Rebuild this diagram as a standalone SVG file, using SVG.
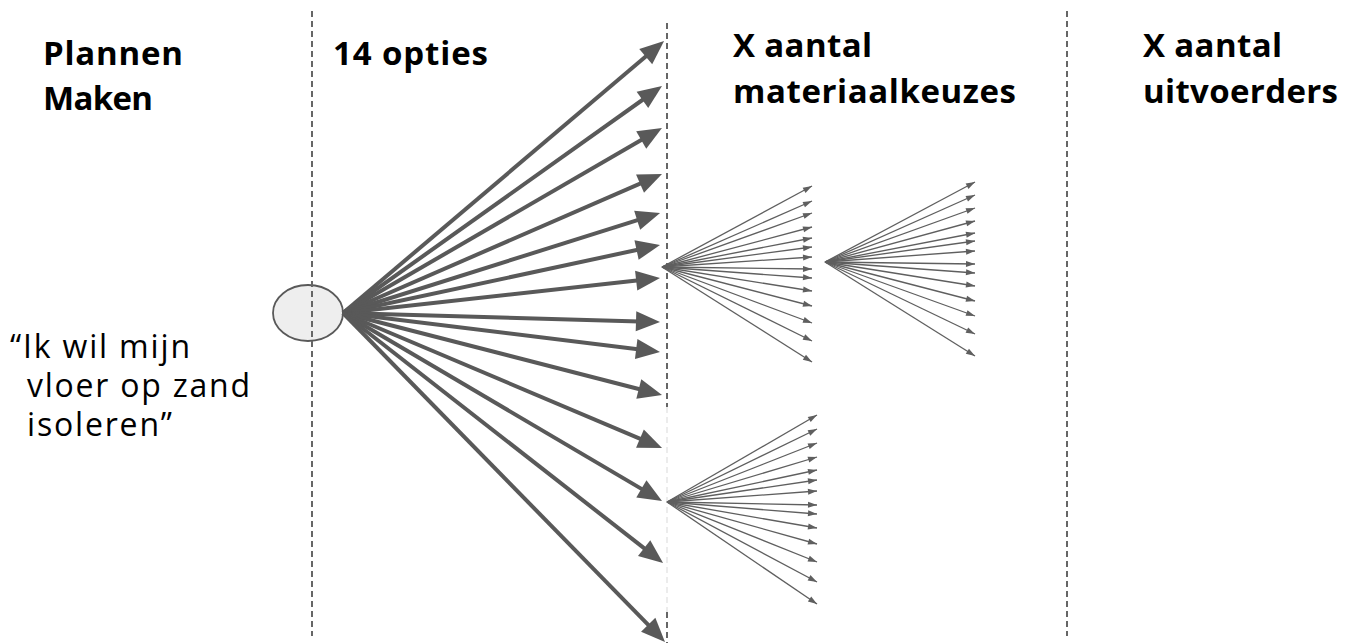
<svg xmlns="http://www.w3.org/2000/svg" width="1355" height="643" viewBox="0 0 1355 643">
<style>
.sep{stroke:#666;stroke-width:2;stroke-dasharray:6 4;fill:none}
.sepf{stroke:#ececec;stroke-width:2;stroke-dasharray:6 4;fill:none}
.big{stroke:#595959;stroke-width:4;fill:none;marker-end:url(#bh)}
.thin{stroke:#5f5f5f;stroke-width:1.3;fill:none;marker-end:url(#th)}
.h{font-family:"Open Sans","DejaVu Sans",sans-serif;font-weight:700;font-size:33px;fill:#000}
.q{font-family:"Open Sans","DejaVu Sans",sans-serif;font-weight:400;font-size:32px;fill:#000}
</style>
<defs>
<marker id="bh" markerUnits="userSpaceOnUse" markerWidth="24" markerHeight="20" refX="12" refY="10" orient="auto" overflow="visible">
<path d="M0,0 L24,10 L0,20 z" fill="#595959"/>
</marker>
<marker id="th" markerUnits="userSpaceOnUse" markerWidth="9" markerHeight="6" refX="9" refY="3" orient="auto" overflow="visible">
<path d="M0,0 L9,3 L0,6 z" fill="#5f5f5f"/>
</marker>
</defs>
<rect width="1355" height="643" fill="#fff"/>
<g id="node-start">
<ellipse cx="308" cy="313" rx="35" ry="28" fill="#eeeeee" stroke="#595959" stroke-width="1.8"/>
</g>
<g id="separators">
<line class="sep" x1="312" y1="11" x2="312" y2="636"/>
<line class="sep" x1="667" y1="23" x2="667" y2="407"/>
<line class="sepf" x1="667" y1="407" x2="667" y2="612"/>
<line class="sep" x1="667" y1="612" x2="667" y2="643"/>
<line class="sep" x1="1067" y1="11" x2="1067" y2="636"/>
</g>
<g id="connectors">
<g id="options">
<line class="big" x1="343" y1="313" x2="654.9" y2="48.8"/>
<line class="big" x1="343" y1="313" x2="652.2" y2="93.0"/>
<line class="big" x1="343" y1="313" x2="651.6" y2="134.0"/>
<line class="big" x1="343" y1="313" x2="651.0" y2="178.8"/>
<line class="big" x1="343" y1="313" x2="648.6" y2="216.6"/>
<line class="big" x1="343" y1="313" x2="648.3" y2="247.5"/>
<line class="big" x1="343" y1="313" x2="648.1" y2="279.3"/>
<line class="big" x1="343" y1="313" x2="648.0" y2="321.7"/>
<line class="big" x1="343" y1="313" x2="648.1" y2="350.5"/>
<line class="big" x1="343" y1="313" x2="650.4" y2="392.0"/>
<line class="big" x1="343" y1="313" x2="651.0" y2="443.3"/>
<line class="big" x1="343" y1="313" x2="651.7" y2="494.9"/>
<line class="big" x1="343" y1="313" x2="653.6" y2="555.6"/>
<line class="big" x1="343" y1="313" x2="656.6" y2="633.4"/>
</g>
<g id="fan1">
<line class="thin" x1="662" y1="267" x2="812" y2="186"/>
<line class="thin" x1="662" y1="267" x2="812" y2="201"/>
<line class="thin" x1="662" y1="267" x2="812" y2="213"/>
<line class="thin" x1="662" y1="267" x2="812" y2="227"/>
<line class="thin" x1="662" y1="267" x2="812" y2="238"/>
<line class="thin" x1="662" y1="267" x2="812" y2="247"/>
<line class="thin" x1="662" y1="267" x2="812" y2="257"/>
<line class="thin" x1="662" y1="267" x2="812" y2="269"/>
<line class="thin" x1="662" y1="267" x2="812" y2="278"/>
<line class="thin" x1="662" y1="267" x2="812" y2="291"/>
<line class="thin" x1="662" y1="267" x2="812" y2="306"/>
<line class="thin" x1="662" y1="267" x2="812" y2="323"/>
<line class="thin" x1="662" y1="267" x2="812" y2="341"/>
<line class="thin" x1="662" y1="267" x2="812" y2="362"/>
</g>
<g id="fan2">
<line class="thin" x1="825" y1="262" x2="975" y2="182"/>
<line class="thin" x1="825" y1="262" x2="975" y2="195"/>
<line class="thin" x1="825" y1="262" x2="975" y2="208"/>
<line class="thin" x1="825" y1="262" x2="975" y2="221"/>
<line class="thin" x1="825" y1="262" x2="975" y2="233"/>
<line class="thin" x1="825" y1="262" x2="975" y2="241"/>
<line class="thin" x1="825" y1="262" x2="975" y2="251"/>
<line class="thin" x1="825" y1="262" x2="975" y2="264"/>
<line class="thin" x1="825" y1="262" x2="975" y2="273"/>
<line class="thin" x1="825" y1="262" x2="975" y2="286"/>
<line class="thin" x1="825" y1="262" x2="975" y2="301"/>
<line class="thin" x1="825" y1="262" x2="975" y2="316"/>
<line class="thin" x1="825" y1="262" x2="975" y2="334"/>
<line class="thin" x1="825" y1="262" x2="975" y2="356"/>
</g>
<g id="fan3">
<line class="thin" x1="667" y1="502" x2="817" y2="415"/>
<line class="thin" x1="667" y1="502" x2="817" y2="429"/>
<line class="thin" x1="667" y1="502" x2="817" y2="443"/>
<line class="thin" x1="667" y1="502" x2="817" y2="457"/>
<line class="thin" x1="667" y1="502" x2="817" y2="470"/>
<line class="thin" x1="667" y1="502" x2="817" y2="480"/>
<line class="thin" x1="667" y1="502" x2="817" y2="491"/>
<line class="thin" x1="667" y1="502" x2="817" y2="505"/>
<line class="thin" x1="667" y1="502" x2="817" y2="514"/>
<line class="thin" x1="667" y1="502" x2="817" y2="528"/>
<line class="thin" x1="667" y1="502" x2="817" y2="544"/>
<line class="thin" x1="667" y1="502" x2="817" y2="562"/>
<line class="thin" x1="667" y1="502" x2="817" y2="582"/>
<line class="thin" x1="667" y1="502" x2="817" y2="604"/>
</g>
</g>
<g id="label-plannen">
<text class="h" x="43" y="65" textLength="140" lengthAdjust="spacing">Plannen</text>
<text class="h" x="43" y="110" textLength="110" lengthAdjust="spacing">Maken</text>
</g>
<g id="label-opties">
<text class="h" x="333" y="65" textLength="155" lengthAdjust="spacing">14 opties</text>
</g>
<g id="label-materiaal">
<text class="h" x="733" y="57" textLength="139" lengthAdjust="spacing">X aantal</text>
<text class="h" x="733" y="103" textLength="283" lengthAdjust="spacing">materiaalkeuzes</text>
</g>
<g id="label-uitvoerders">
<text class="h" x="1143" y="57" textLength="139" lengthAdjust="spacing">X aantal</text>
<text class="h" x="1143" y="103" textLength="195" lengthAdjust="spacing">uitvoerders</text>
</g>
<g id="label-quote">
<text class="q" x="10" y="358" textLength="180" lengthAdjust="spacing">“Ik wil mijn</text>
<text class="q" x="27" y="397" textLength="223" lengthAdjust="spacing">vloer op zand</text>
<text class="q" x="27" y="436" textLength="145" lengthAdjust="spacing">isoleren”</text>
</g>
</svg>
